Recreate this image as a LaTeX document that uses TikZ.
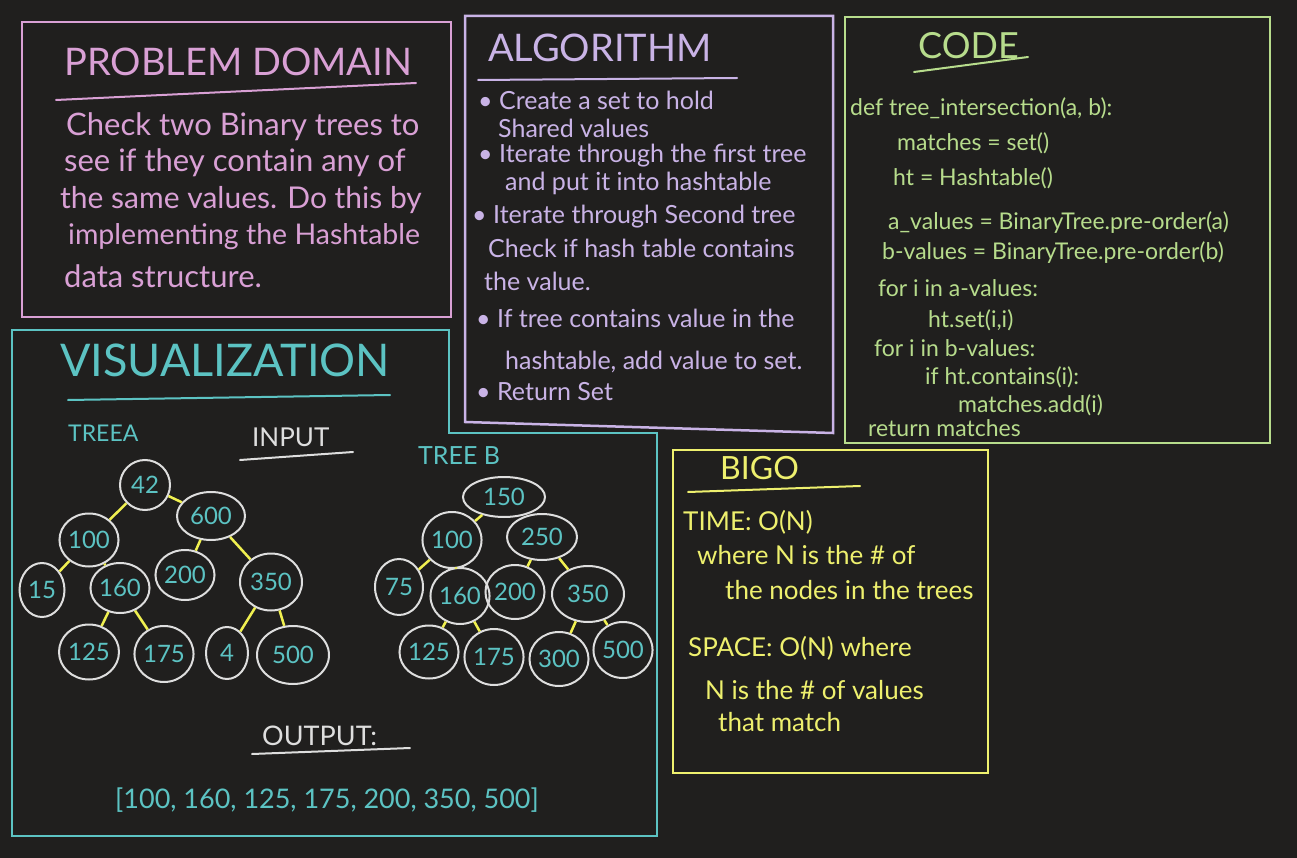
\documentclass[tikz,border=0pt]{standalone}
\usepackage{fontspec}
\setmainfont{Lato}
\usetikzlibrary{shapes.geometric}
\definecolor{bg}{RGB}{32,31,30}
\definecolor{pinkc}{RGB}{217,160,213}
\definecolor{lavc}{RGB}{201,179,230}
\definecolor{greenc}{RGB}{183,220,140}
\definecolor{cyanc}{RGB}{92,195,195}
\definecolor{yellowc}{RGB}{238,240,110}
\definecolor{circc}{RGB}{222,222,222}
\definecolor{edgec}{RGB}{240,240,80}
\tikzset{
  frame/.style={line width=2.5},
  uline/.style={line width=2, line cap=round},
  txt/.style={anchor=west, inner sep=0},
  pdt/.style={txt, text=pinkc, font=\fontsize{31}{33}\selectfont},
  alt/.style={txt, text=lavc, font=\fontsize{25}{27}\selectfont},
  cdt/.style={txt, text=greenc, font=\fontsize{23}{25}\selectfont},
  bot/.style={txt, text=yellowc, font=\fontsize{26}{28}\selectfont},
  title/.style={txt, font=\fontsize{38}{40}\selectfont},
  tnode/.style={ellipse, draw=circc, line width=2, text=cyanc, inner sep=0,
    font=\fontsize{24}{24}\selectfont},
  tedge/.style={draw=edgec, line width=2.5},
}
\begin{document}
\begin{tikzpicture}[x=1pt,y=-1pt]
\fill[bg] (0,0) rectangle (1297,858);
\useasboundingbox (0,0) rectangle (1297,858);

% ---------- PROBLEM DOMAIN ----------
\draw[frame, pinkc] (22,22) rectangle (451,317);
\node[title, text=pinkc] (pdtitle) at (64,62) {PROBLEM DOMAIN};
\draw[uline, pinkc] (56,100) -- (416,83);
\node[pdt] (pd1) at (66,127) {Check two Binary trees to};
\node[pdt] (pd2) at (64,163) {see if they contain any of};
\node[pdt, font=\fontsize{30}{32}\selectfont] (pd3) at (60,200) {the same values. Do this by};
\node[pdt, font=\fontsize{28.5}{30}\selectfont] (pd4) at (68,237) {implementing the Hashtable};
\node[pdt] (pd5) at (64,276) {data structure.};

% ---------- ALGORITHM ----------
\draw[frame, lavc] (465,16) -- (833,16) -- (833,433) -- (465,422) -- cycle;
\node[title, text=lavc] (altitle) at (488,48) {ALGORITHM};
\draw[uline, lavc] (478,80) -- (737,78);
\node[alt] (al1) at (478,100) {• Create a set to hold};
\node[alt] (al2) at (498,128) {Shared values};
\node[alt] (al3) at (478,156) {• Iterate through the first tree};
\node[alt] (al4) at (505,183) {and put it into hashtable};
\node[alt] (al5) at (472,217) {• Iterate through Second tree};
\node[alt] (al6) at (488,248) {Check if hash table contains};
\node[alt] (al7) at (484,281) {the value.};
\node[alt] (al8) at (476,318) {• If tree contains value in the};
\node[alt] (al9) at (505,362) {hashtable, add value to set.};
\node[alt] (al10) at (476,392) {• Return Set};

% ---------- CODE ----------
\draw[frame, greenc] (845,17) rectangle (1270,443);
\node[title, text=greenc, font=\fontsize{36}{38}\selectfont] (cdtitle) at (918,46) {CODE};
\draw[uline, greenc] (914,72) -- (1028,57);
\node[cdt] (cd1) at (850,108) {def tree\_intersection(a, b):};
\node[cdt] (cd2) at (897,143) {matches = set()};
\node[cdt] (cd3) at (893,178) {ht = Hashtable()};
\node[cdt] (cd4) at (888,223) {a\_values = BinaryTree.pre-order(a)};
\node[cdt] (cd5) at (882,253) {b-values = BinaryTree.pre-order(b)};
\node[cdt] (cd6) at (878,288) {for i in a-values:};
\node[cdt] (cd7) at (928,320) {ht.set(i,i)};
\node[cdt] (cd8) at (874,348) {for i in b-values:};
\node[cdt] (cd9) at (925,377) {if ht.contains(i):};
\node[cdt] (cd10) at (958,405) {matches.add(i)};
\node[cdt] (cd11) at (868,428) {return matches};

% ---------- BIG O ----------
\draw[frame, yellowc] (673,450) rectangle (988,773);
\node[title, text=yellowc, font=\fontsize{32}{34}\selectfont] (botitle) at (720,468) {BIGO};
\draw[uline, yellowc] (688,492) -- (860,486);
\node[bot] (bo1) at (683,522) {TIME: O(N)};
\node[bot] (bo2) at (697,555) {where N is the \# of};
\node[bot] (bo3) at (725,590) {the nodes in the trees};
\node[bot] (bo4) at (688,648) {SPACE: O(N) where};
\node[bot] (bo5) at (705,690) {N is the \# of values};
\node[bot] (bo6) at (718,722) {that match};

% ---------- VISUALIZATION ----------
\draw[frame, cyanc] (12,330) -- (449,330) -- (449,433) -- (657,433) -- (657,836) -- (12,836) -- cycle;
\node[title, text=cyanc, font=\fontsize{45}{47}\selectfont] (vistitle) at (60,360) {VISUALIZATION};
\draw[uline, cyanc] (68,400) -- (390,395);
\node[txt, text=cyanc, font=\fontsize{23}{24}\selectfont] (treea) at (68,433) {TREEA};
\node[txt, text=circc, font=\fontsize{26}{26}\selectfont] (input) at (252,437) {INPUT};
\draw[uline, circc] (240,460) -- (353,452);
\node[txt, text=cyanc, font=\fontsize{25}{26}\selectfont] (treeb) at (418,456) {TREE B};

% Tree A
\node[tnode, minimum width=50, minimum height=50] (a42) at (145,485) {42};
\node[tnode, minimum width=68, minimum height=48] (a600) at (211,516) {600};
\node[tnode, minimum width=55, minimum height=53] (a100) at (89,540) {100};
\node[tnode, minimum width=45, minimum height=54] (a15) at (42,590) {15};
\node[tnode, minimum width=56, minimum height=50] (a160) at (120,588) {160};
\node[tnode, minimum width=54, minimum height=50] (a200) at (185,575) {200};
\node[tnode, minimum width=62, minimum height=57] (a350) at (271,582) {350};
\node[tnode, minimum width=60, minimum height=55] (a125) at (89,652) {125};
\node[tnode, minimum width=58, minimum height=56] (a175) at (164,654) {175};
\node[tnode, minimum width=42, minimum height=52] (a4) at (227,653) {4};
\node[tnode, minimum width=72, minimum height=58] (a500) at (293,655) {500};
\draw[tedge] (a42) -- (a100);
\draw[tedge] (a42) -- (a600);
\draw[tedge] (a100) -- (a15);
\draw[tedge] (a100) -- (a160);
\draw[tedge] (a600) -- (a200);
\draw[tedge] (a600) -- (a350);
\draw[tedge] (a160) -- (a125);
\draw[tedge] (a160) -- (a175);
\draw[tedge] (a350) -- (a4);
\draw[tedge] (a350) -- (a500);

% Tree B
\node[tnode, minimum width=82, minimum height=40] (b150) at (504,497) {150};
\node[tnode, minimum width=50, minimum height=56] (b100) at (452,540) {100};
\node[tnode, minimum width=70, minimum height=46] (b250) at (542,537) {250};
\node[tnode, minimum width=48, minimum height=56] (b75) at (399,587) {75};
\node[tnode, minimum width=50, minimum height=56] (b160) at (460,596) {160};
\node[tnode, minimum width=50, minimum height=54] (b200) at (515,592) {200};
\node[tnode, minimum width=72, minimum height=56] (b350) at (588,594) {350};
\node[tnode, minimum width=54, minimum height=53] (b125) at (429,652) {125};
\node[tnode, minimum width=56, minimum height=56] (b175) at (494,657) {175};
\node[tnode, minimum width=52, minimum height=54] (b300) at (559,659) {300};
\node[tnode, minimum width=54, minimum height=56] (b500) at (623,650) {500};
\draw[tedge] (b150) -- (b100);
\draw[tedge] (b100) -- (b75);
\draw[tedge] (b100) -- (b160);
\draw[tedge] (b250) -- (b200);
\draw[tedge] (b250) -- (b350);
\draw[tedge] (b160) -- (b125);
\draw[tedge] (b160) -- (b175);
\draw[tedge] (b350) -- (b300);
\draw[tedge] (b350) -- (b500);

% Output
\node[txt, text=circc, font=\fontsize{27}{27}\selectfont] (output) at (262,736) {OUTPUT:};
\draw[uline, circc] (252,754) -- (410,748);
\node[txt, text=cyanc, font=\fontsize{27}{30}\selectfont] (result) at (115,800) {[100, 160, 125, 175, 200, 350, 500]};
\end{tikzpicture}
\end{document}
